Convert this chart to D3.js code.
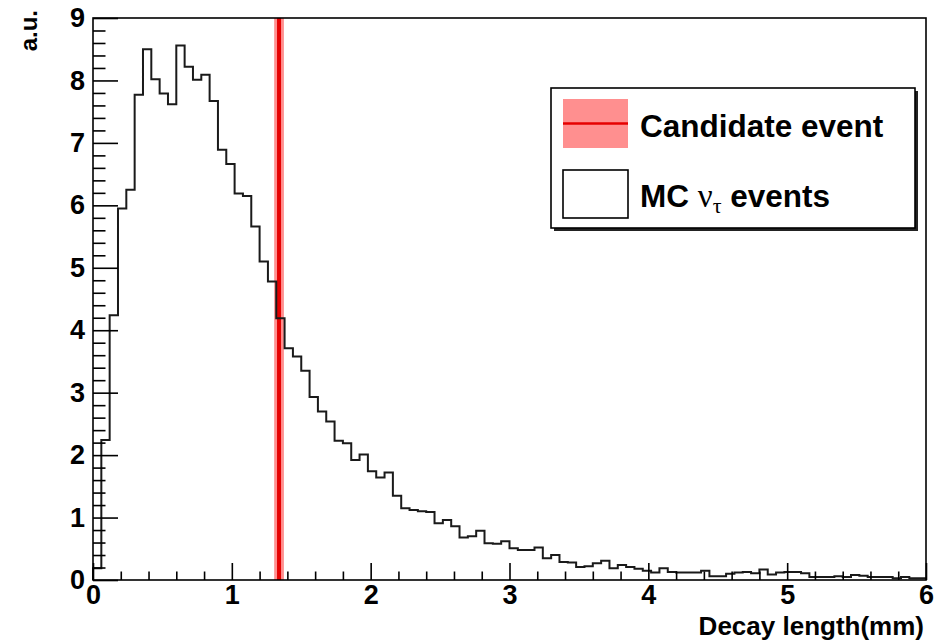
<!DOCTYPE html>
<html><head><meta charset="utf-8">
<script src="https://cdn.jsdelivr.net/npm/d3@7"></script>
<style>body{margin:0;background:#fff}svg{display:block}</style>
</head><body>
<svg id="c" width="935" height="641"></svg>
<script>
const binLow = 0, binHigh = 6;
const counts = [0.19,2.24,4.24,5.95,6.25,7.77,8.50,8.02,7.79,7.62,
8.56,8.22,8.01,8.09,7.67,6.89,6.66,6.19,6.15,5.66,
5.10,4.78,4.19,3.71,3.58,3.35,2.93,2.70,2.54,2.23,
2.19,1.92,2.01,1.74,1.64,1.72,1.35,1.15,1.12,1.10,
1.09,0.91,0.96,0.86,0.68,0.70,0.79,0.59,0.58,0.62,
0.51,0.48,0.48,0.52,0.35,0.40,0.29,0.28,0.21,0.22,
0.27,0.31,0.19,0.24,0.21,0.18,0.15,0.12,0.19,0.13,
0.12,0.12,0.12,0.15,0.06,0.06,0.10,0.12,0.13,0.11,
0.17,0.09,0.12,0.13,0.13,0.11,0.05,0.05,0.05,0.06,
0.05,0.08,0.07,0.05,0.05,0.05,0.03,0.05,0.03,0.03];
const candidate = 1.34, candidateErr = 0.035;
const xTicks = [0,1,2,3,4,5,6];
const yTicks = [0,1,2,3,4,5,6,7,8,9];
const legendLabels = ["Candidate event", "MC ", "ν", "τ", " events"];
const xTitle = "Decay length(mm)", yTitle = "a.u.";

const L = 93, R = 926, T = 18, B = 580;
const x = d3.scaleLinear().domain([0, 6]).range([L, R]);
const y = d3.scaleLinear().domain([0, 9]).range([B, T]);
const svg = d3.select("#c");
const font = "'Liberation Sans', Arial, Helvetica, sans-serif";

// candidate band
svg.append("rect").attr("x", x(candidate - candidateErr)).attr("y", T)
  .attr("width", x(candidate + candidateErr) - x(candidate - candidateErr)).attr("height", B - T)
  .attr("fill", "#ff8f8f");
svg.append("line").attr("x1", x(candidate)).attr("x2", x(candidate)).attr("y1", T).attr("y2", B)
  .attr("stroke", "#e60000").attr("stroke-width", 4);

// histogram step path
const bw = (binHigh - binLow) / counts.length;
let pts = [[x(0), y(0)]];
counts.forEach((c, i) => { pts.push([x(i * bw), y(c)]); pts.push([x((i + 1) * bw), y(c)]); });
svg.append("path").attr("d", d3.line()(pts)).attr("fill", "none")
  .attr("stroke", "#1a1a1a").attr("stroke-width", 2).attr("stroke-linejoin", "miter");

// frame
svg.append("rect").attr("x", L).attr("y", T).attr("width", R - L).attr("height", B - T)
  .attr("fill", "none").attr("stroke", "#000").attr("stroke-width", 1.6);

// axes with inward ticks
const xMinor = d3.range(0, 30.5, 1).map(v => v * 0.2).filter(v => Math.abs(v - Math.round(v)) > 1e-6);
const yMinor = d3.range(0, 45.5, 1).map(v => v * 0.2).filter(v => Math.abs(v - Math.round(v)) > 1e-6);
const gx = svg.append("g").attr("transform", `translate(0,${B})`);
gx.call(d3.axisBottom(x).tickValues(xMinor).tickSize(-8.5).tickFormat(""));
gx.append("g").call(d3.axisBottom(x).tickValues(xTicks).tickSize(-17).tickFormat(d3.format("d")));
gx.selectAll(".domain").remove();
gx.selectAll("line").attr("stroke", "#000").attr("stroke-width", 1.6);
gx.selectAll("text").attr("y", 5).attr("dy", "0.71em").attr("font-family", font)
  .attr("font-weight", "bold").attr("font-size", 27).attr("fill", "#000");

const gy = svg.append("g").attr("transform", `translate(${L},0)`);
gy.call(d3.axisLeft(y).tickValues(yMinor).tickSize(-12.5).tickFormat(""));
gy.append("g").call(d3.axisLeft(y).tickValues(yTicks).tickSize(-25).tickFormat(d3.format("d")));
gy.selectAll(".domain").remove();
gy.selectAll("line").attr("stroke", "#000").attr("stroke-width", 1.6);
gy.selectAll("text").attr("x", -8).attr("font-family", font)
  .attr("font-weight", "bold").attr("font-size", 27).attr("fill", "#000");

// titles
svg.append("text").attr("x", 924).attr("y", 635).attr("text-anchor", "end")
  .attr("font-family", font).attr("font-weight", "bold").attr("font-size", 26).text(xTitle);
svg.append("text").attr("transform", "translate(37,10) rotate(-90)").attr("text-anchor", "end")
  .attr("font-family", font).attr("font-weight", "bold").attr("font-size", 24).text(yTitle);

// legend
const lg = svg.append("g");
lg.append("rect").attr("x", 554).attr("y", 91).attr("width", 364).attr("height", 140).attr("fill", "#222");
lg.append("rect").attr("x", 551).attr("y", 88).attr("width", 364).attr("height", 140)
  .attr("fill", "#fff").attr("stroke", "#000").attr("stroke-width", 1.6);
lg.append("rect").attr("x", 563).attr("y", 99).attr("width", 65).attr("height", 49).attr("fill", "#ff8f8f");
lg.append("line").attr("x1", 563).attr("x2", 628).attr("y1", 123.5).attr("y2", 123.5)
  .attr("stroke", "#e60000").attr("stroke-width", 2.5);
lg.append("rect").attr("x", 563).attr("y", 170).attr("width", 65).attr("height", 48)
  .attr("fill", "#fff").attr("stroke", "#000").attr("stroke-width", 1.6);
lg.append("text").attr("x", 640).attr("y", 137).attr("font-family", font).attr("font-weight", "bold")
  .attr("font-size", 31.5).text(legendLabels[0]);
const t2 = lg.append("text").attr("x", 640).attr("y", 207).attr("font-family", font)
  .attr("font-weight", "bold").attr("font-size", 31.5);
t2.append("tspan").text(legendLabels[1]);
t2.append("tspan").attr("font-family", "'Liberation Serif', 'Times New Roman', serif").attr("font-weight", "normal")
  .attr("font-size", 33).text(legendLabels[2]);
t2.append("tspan").attr("font-family", "'Liberation Serif', 'Times New Roman', serif").attr("font-weight", "normal")
  .attr("font-size", 22).attr("dy", 6).text(legendLabels[3]);
t2.append("tspan").attr("dy", -6).text(legendLabels[4]);
</script>
</body></html>
